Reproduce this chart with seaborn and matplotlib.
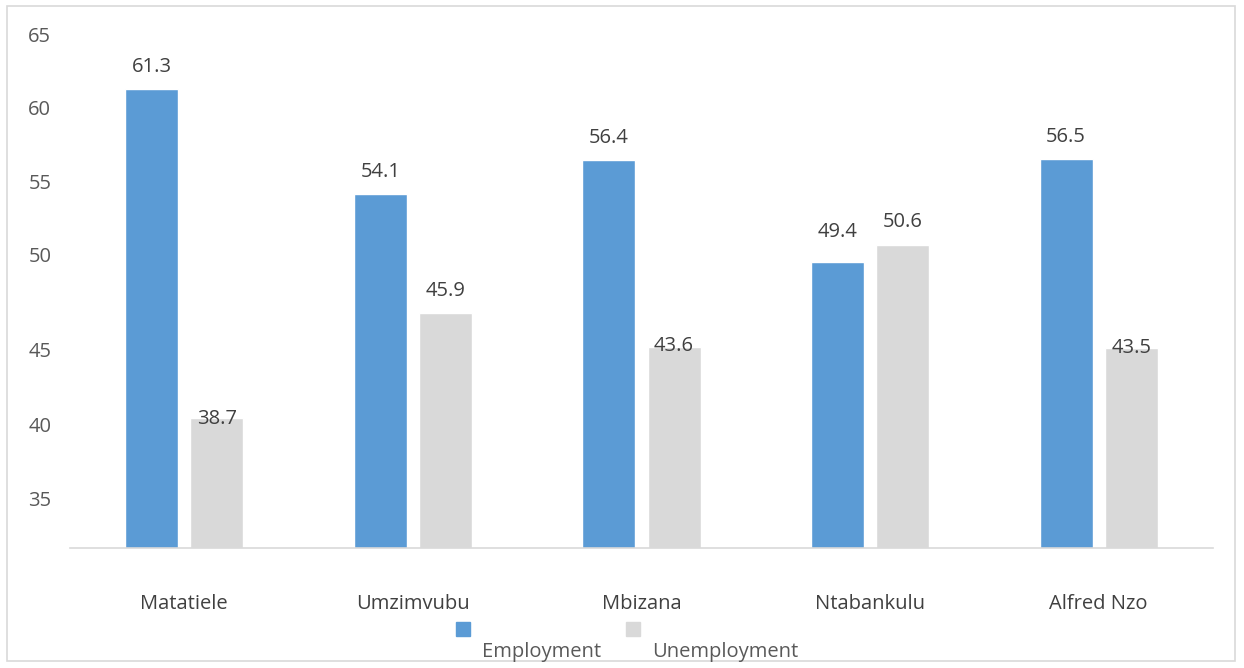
import matplotlib
matplotlib.use("Agg")
import matplotlib.pyplot as plt
import seaborn as sns
import pandas as pd
from matplotlib.patches import Rectangle

categories = ["Matatiele", "Umzimvubu", "Mbizana", "Ntabankulu", "Alfred Nzo"]
employment = [61.3, 54.1, 56.4, 49.4, 56.5]
unemployment = [38.7, 45.9, 43.6, 50.6, 43.5]
series_names = ["Employment", "Unemployment"]
tick_labels = ["65", "60", "55", "50", "45", "40", "35"]
tick_positions = [65.0, 60.0, 54.9, 49.9, 43.4, 38.3, 33.2]

sns.set_theme(style="white")
plt.rcParams["font.family"] = ["Open Sans", "DejaVu Sans"]

df = pd.DataFrame({
    "category": categories * 2,
    "value": employment + unemployment,
    "series": [series_names[0]] * len(categories) + [series_names[1]] * len(categories),
})

W, H = 1244, 668
fig = plt.figure(figsize=(W / 100, H / 100), dpi=100)
ax = fig.add_axes([70 / W, 1 - 548 / H, (1213 - 70) / W, (548 - 20) / H])

palette = {"Employment": "#5b9bd5", "Unemployment": "#d9d9d9"}
sns.barplot(data=df, x="category", y="value", hue="series", palette=palette,
            width=0.57, gap=0.186, ax=ax, legend=False, saturation=1)

ax.set_ylim(29.8, 66)
ax.set_xlim(-0.5, 4.5)
ax.set_xlabel("")
ax.set_ylabel("")
ax.set_yticks(tick_positions)
ax.set_yticklabels(tick_labels)
for s in ["top", "right", "left"]:
    ax.spines[s].set_visible(False)
ax.spines["bottom"].set_color("#d9d9d9")
ax.spines["bottom"].set_linewidth(1.2)
ax.tick_params(axis="y", length=0, pad=30, labelsize=14.5, labelcolor="#595959")
for t in ax.get_yticklabels():
    t.set_horizontalalignment("left")
ax.tick_params(axis="x", length=0, pad=33, labelsize=14.5, labelcolor="#404040")

# data labels (pixel offsets from bar tops)
offsets = {0: [22, 22, 22, 30, 22], 1: [-1, 22, 1, 23, 0]}
for ci, cont in enumerate(ax.containers):
    for bi, bar in enumerate(cont):
        v = bar.get_height()
        ax.annotate(f"{v:.1f}", (bar.get_x() + bar.get_width() / 2, v),
                    xytext=(0, offsets[ci][bi] * 0.72), textcoords="offset points",
                    ha="center", va="center", fontsize=14.5, color="#404040")

# legend (manual, reproducing the offset layout)
for (sx, tx), name in zip([(456, 482), (626, 652)], series_names):
    fig.patches.append(Rectangle((sx / W, 1 - 636 / H), 14 / W, 14 / H,
                                 transform=fig.transFigure, color=palette[name]))
    fig.text(tx / W, 1 - 652 / H, name, ha="left", va="center",
             fontsize=14.5, color="#595959")

# outer border
fig.patches.append(Rectangle((7 / W, 1 - 661 / H), (1235 - 7) / W, (661 - 6) / H,
                             transform=fig.transFigure, fill=False,
                             edgecolor="#d9d9d9", linewidth=1.2))

fig.savefig("out.png", dpi=100)
